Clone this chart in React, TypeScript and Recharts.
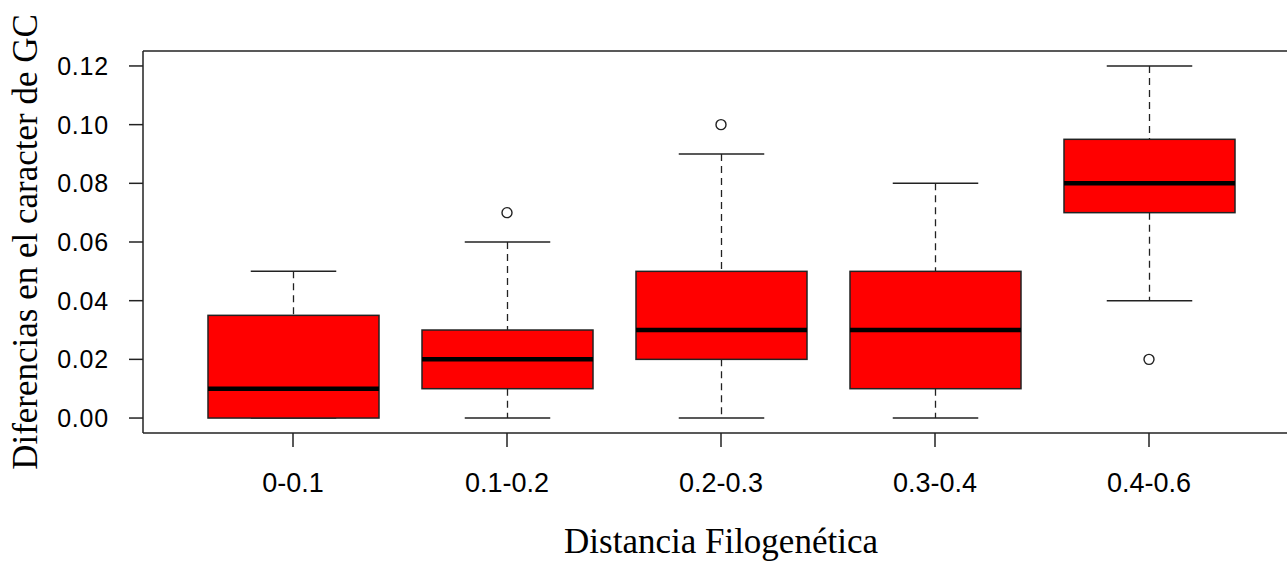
import React from 'react';
import { ComposedChart, Bar, Scatter, XAxis, YAxis, Label, ReferenceLine } from 'recharts';

// Boxplot summary
const categories = ['0-0.1', '0.1-0.2', '0.2-0.3', '0.3-0.4', '0.4-0.6'];
const mins = [0, 0, 0, 0, 0.04];
const q1s = [0, 0.01, 0.02, 0.01, 0.07];
const medians = [0.01, 0.02, 0.03, 0.03, 0.08];
const q3s = [0.035, 0.03, 0.05, 0.05, 0.095];
const maxs = [0.05, 0.06, 0.09, 0.08, 0.12];
const outliers: (number | null)[] = [null, 0.07, 0.1, null, 0.02];
const yTicks = [0, 0.02, 0.04, 0.06, 0.08, 0.1, 0.12];

const data = categories.map((name, i) => ({
  name,
  range: [mins[i], maxs[i]],
  min: mins[i],
  q1: q1s[i],
  median: medians[i],
  q3: q3s[i],
  max: maxs[i],
  outlier: outliers[i],
}));

const yDomain: [number, number] = [-0.0051, 0.1251];
const ink = '#222';

function BoxShape(props: any) {
  const { x, y, width, height, payload } = props;
  const { min, q1, median, q3, max } = payload;
  // bar spans [min, max]; the scale is linear so interpolate inside it
  const toY = (v: number) => y + ((max - v) / (max - min)) * height;
  const cx = x + width / 2;
  const cap = width / 4;
  return (
    <g>
      <line x1={cx} x2={cx} y1={toY(max)} y2={toY(q3)} stroke={ink} strokeWidth={1.3} strokeDasharray="7 5" />
      <line x1={cx} x2={cx} y1={toY(q1)} y2={toY(min)} stroke={ink} strokeWidth={1.3} strokeDasharray="7 5" />
      <line x1={cx - cap} x2={cx + cap} y1={toY(max)} y2={toY(max)} stroke={ink} strokeWidth={1.5} />
      <line x1={cx - cap} x2={cx + cap} y1={toY(min)} y2={toY(min)} stroke={ink} strokeWidth={1.5} />
      <rect x={x} y={toY(q3)} width={width} height={toY(q1) - toY(q3)} fill="#FF0000" stroke={ink} strokeWidth={1.5} />
      <line x1={x} x2={x + width} y1={toY(median)} y2={toY(median)} stroke="#000" strokeWidth={4.5} />
    </g>
  );
}

function OutlierShape(props: any) {
  const { cx, cy, payload } = props;
  if (payload == null || payload.outlier == null || !isFinite(cy)) return <g />;
  return <circle cx={cx} cy={cy} r={5} fill="none" stroke={ink} strokeWidth={1.4} />;
}

function App() {
  return (
    <div style={{ position: 'absolute', left: 0, top: 0, width: 1287, height: 562, overflow: 'hidden', background: '#fff' }}>
      <ComposedChart width={1300} height={562} data={data} margin={{ top: 51, right: 1, bottom: 0, left: 0 }}>
        <XAxis
          dataKey="name"
          type="category"
          height={129}
          padding={{ left: 43, right: 43 }}
          stroke={ink}
          strokeWidth={1.5}
          tickSize={14}
          tickMargin={26}
          tick={{ fill: '#000', fontSize: 27, fontFamily: '"Liberation Sans", Arial, sans-serif' }}
        >
          <Label
            content={(p: any) => {
              const vb = p.viewBox;
              return (
                <text x={vb.x + vb.width / 2} y={vb.y + 120} textAnchor="middle" fontSize={35} fontFamily='"Liberation Serif", "Times New Roman", serif' fill="#000">
                  Distancia Filogenética
                </text>
              );
            }}
          />
        </XAxis>
        <YAxis
          type="number"
          width={143}
          domain={yDomain}
          ticks={yTicks}
          allowDataOverflow
          stroke={ink}
          strokeWidth={1.5}
          tickSize={14}
          tickMargin={20}
          tickFormatter={(v: number) => v.toFixed(2)}
          tick={{ fill: '#000', fontSize: 25, fontFamily: '"Liberation Sans", Arial, sans-serif', letterSpacing: 0.8 }}
        >
          <Label
            content={(p: any) => {
              const vb = p.viewBox;
              const lx = vb.x + 37;
              const ly = vb.y + vb.height / 2;
              return (
                <text x={lx} y={ly} transform={`rotate(-90 ${lx} ${ly})`} textAnchor="middle" fontSize={35} fontFamily='"Liberation Serif", "Times New Roman", serif' fill="#000">
                  Diferencias en el caracter de GC
                </text>
              );
            }}
          />
        </YAxis>
        <ReferenceLine y={yDomain[1]} stroke={ink} strokeWidth={1.5} ifOverflow="extendDomain" />
        <Bar dataKey="range" barSize={171} shape={BoxShape} isAnimationActive={false} />
        <Scatter dataKey="outlier" shape={OutlierShape} isAnimationActive={false} />
      </ComposedChart>
    </div>
  );
}

export default App;
